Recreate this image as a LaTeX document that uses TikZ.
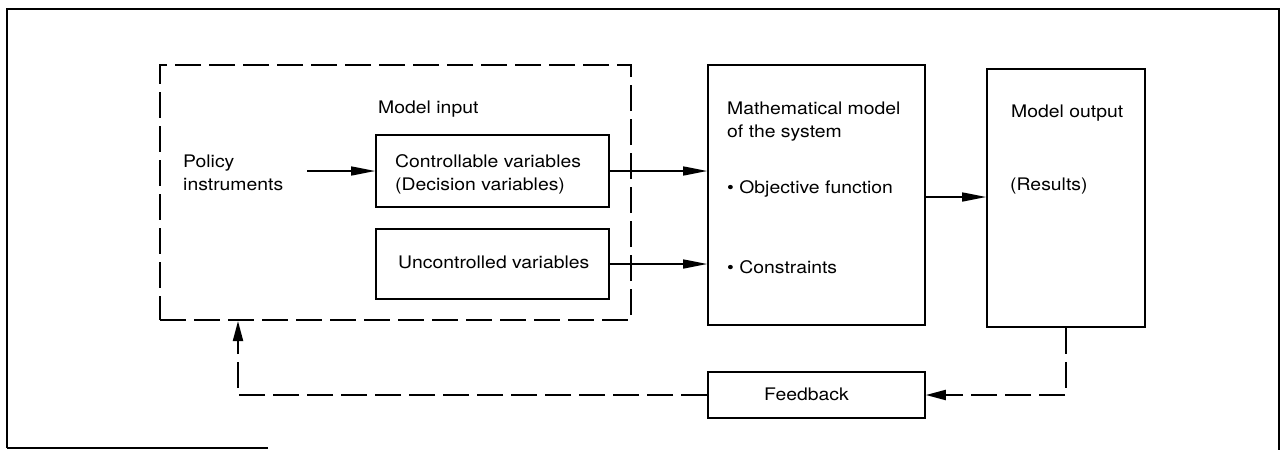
\documentclass[tikz,border=0pt]{standalone}
\usepackage{fontspec}
\setmainfont[FakeStretch=1.12]{TeX Gyre Heros}
\usetikzlibrary{arrows.meta}
\begin{document}
\begin{tikzpicture}[x=1pt,y=-1pt,
  box/.style={draw, line width=1.6pt, inner sep=0pt},
  dbox/.style={draw, line width=2pt, dash pattern=on 26pt off 8pt, inner sep=0pt},
  lbl/.style={anchor=base west, inner sep=0pt, font=\fontsize{17.3}{23}\selectfont, align=left},
  arr/.style={line width=1.4pt, -{Triangle[length=24pt,width=9pt]}},
  darr/.style={line width=2pt, dash pattern=on 26pt off 8pt, -{Triangle[length=20pt,width=10pt]}}
]
\useasboundingbox (0,0) rectangle (1283,450);

% frame
\draw[line width=2pt] (7,448) -- (7,9) -- (1279,9) -- (1279,450);
\draw[line width=1.2pt] (268,448) -- (7,448);

% boxes
\node[dbox, minimum width=471pt, minimum height=255pt] (inbox) at (395.5,192.5) {};
\node[box, minimum width=233pt, minimum height=72pt] (ctrl) at (492.5,171) {};
\node[box, minimum width=233pt, minimum height=70pt] (unc) at (492.5,264) {};
\node[box, minimum width=217pt, minimum height=260pt] (math) at (816.5,195) {};
\node[box, minimum width=158pt, minimum height=258pt] (out) at (1066,198) {};
\node[box, minimum width=217pt, minimum height=46pt] (fb) at (816.5,395) {};

% labels (two-line labels are placed by the baseline of their last line)
\node[lbl] (inlbl) at (378,113) {Model input};
\node[lbl] (policy) at (183,190) {Policy\\instruments};
\node[lbl] (ctrllbl) at (395,190) {Controllable variables\\(Decision variables)};
\node[lbl] (unclbl) at (398,268) {Uncontrolled variables};
\node[lbl] (mathlbl) at (727,137.5) {Mathematical model\\of the system};
\node[lbl] (obj) at (727,193) {\textbullet\ Objective function};
\node[lbl] (con) at (727,273) {\textbullet\ Constraints};
\node[lbl] (outlbl) at (1011,117) {Model output};
\node[lbl] (res) at (1010,190) {(Results)};
\node[lbl] (fblbl) at (764,400) {Feedback};

% connectors
\coordinate (pstart) at (307,171);
\draw[arr] (pstart) -- (ctrl.west);
\draw[arr] (ctrl.east) -- (ctrl.east -| math.west);
\draw[arr] (unc.east) -- (unc.east -| math.west);
\draw[arr] ([yshift=-2pt]math.east) -- ([yshift=-2pt]math.east -| out.west);

\coordinate (fbturn) at (238,395);
\draw[darr] (out.south) -- (out.south |- fb.east) -- (fb.east);
\draw[darr] (fb.west) -- (fbturn) -- (fbturn |- inbox.south);
\end{tikzpicture}
\end{document}
